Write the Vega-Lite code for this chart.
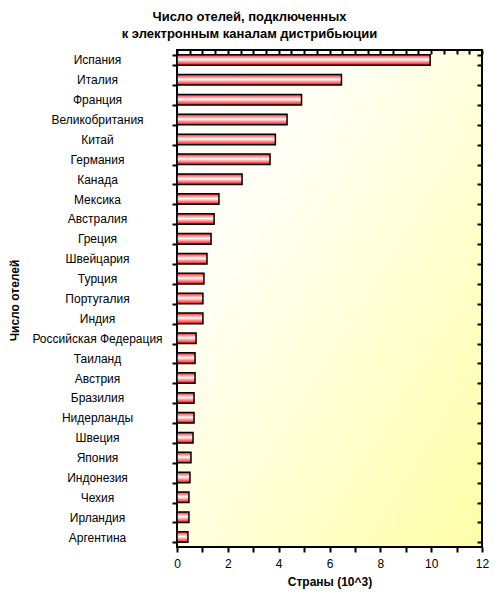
{
  "$schema": "https://vega.github.io/schema/vega-lite/v6.json",
  "autosize": {"type": "none"},
  "padding": {"left": 177, "top": 50, "right": 18, "bottom": 53},
  "width": 305,
  "height": 497,
  "background": "white",
  "title": {
    "text": ["Число отелей, подключенных", "к электронным каналам дистрибьюции"],
    "font": "Liberation Sans",
    "fontSize": 13,
    "fontWeight": "bold",
    "color": "black",
    "lineHeight": 17,
    "anchor": "middle",
    "dx": -80,
    "offset": 3
  },
  "data": {
    "values": [
      {"country": "Испания", "hotels": 9.96},
      {"country": "Италия", "hotels": 6.47},
      {"country": "Франция", "hotels": 4.9},
      {"country": "Великобритания", "hotels": 4.33},
      {"country": "Китай", "hotels": 3.87},
      {"country": "Германия", "hotels": 3.66},
      {"country": "Канада", "hotels": 2.56},
      {"country": "Мексика", "hotels": 1.65},
      {"country": "Австралия", "hotels": 1.46},
      {"country": "Греция", "hotels": 1.34},
      {"country": "Швейцария", "hotels": 1.18},
      {"country": "Турция", "hotels": 1.06},
      {"country": "Португалия", "hotels": 1.02},
      {"country": "Индия", "hotels": 1.02},
      {"country": "Российская Федерация", "hotels": 0.75},
      {"country": "Таиланд", "hotels": 0.71},
      {"country": "Австрия", "hotels": 0.71},
      {"country": "Бразилия", "hotels": 0.67},
      {"country": "Нидерланды", "hotels": 0.67},
      {"country": "Швеция", "hotels": 0.63},
      {"country": "Япония", "hotels": 0.55},
      {"country": "Индонезия", "hotels": 0.51},
      {"country": "Чехия", "hotels": 0.47},
      {"country": "Ирландия", "hotels": 0.47},
      {"country": "Аргентина", "hotels": 0.43}
    ]
  },
  "layer": [
    {
      "mark": {
        "type": "rect",
        "stroke": "#000000",
        "strokeWidth": 2,
        "fill": {
          "gradient": "linear",
          "x1": 0, "y1": 0, "x2": 1, "y2": 1,
          "stops": [
            {"offset": 0, "color": "#ffffff"},
            {"offset": 0.3, "color": "#fffff4"},
            {"offset": 1, "color": "#ffffa8"}
          ]
        }
      },
      "encoding": {
        "x": {"datum": 0, "type": "quantitative", "axis": null},
        "x2": {"datum": 12}
      }
    },
    {
      "mark": {
        "type": "bar",
        "stroke": "black",
        "strokeWidth": 1.5,
        "color": {
          "gradient": "linear",
          "x1": 0, "y1": 0, "x2": 0, "y2": 1,
          "stops": [
            {"offset": 0, "color": "#ff1a1a"},
            {"offset": 0.45, "color": "#ffffff"},
            {"offset": 1, "color": "#ff0000"}
          ]
        }
      },
      "encoding": {
        "y": {
          "field": "country",
          "type": "nominal",
          "sort": null,
          "scale": {"paddingInner": 0.47, "paddingOuter": 0.235},
          "axis": {
            "orient": "left",
            "zindex": 1,
            "title": "Число отелей",
            "titleFont": "Liberation Sans",
            "titleFontSize": 12,
            "titleFontWeight": "bold",
            "titleColor": "black",
            "titleX": -163,
            "titleY": 250,
            "titleBaseline": "middle",
            "titleAngle": -90,
            "domain": false,
            "ticks": true,
            "tickBand": "extent",
            "tickSize": 5,
            "tickWidth": 2,
            "tickColor": "black",
            "labelAlign": "center",
            "labelPadding": 75,
            "labelFont": "Liberation Sans",
            "labelFontSize": 12,
            "labelColor": "black",
            "labelLimit": 300
          }
        },
        "x": {
          "field": "hotels",
          "type": "quantitative",
          "scale": {"domain": [0, 12], "nice": false},
          "axis": {
            "orient": "bottom",
            "zindex": 1,
            "title": "Страны (10^3)",
            "titleFont": "Liberation Sans",
            "titleFontSize": 12,
            "titleFontWeight": "bold",
            "titleColor": "black",
            "titlePadding": 7,
            "domain": false,
            "grid": false,
            "ticks": true,
            "tickCount": 24,
            "format": "d",
            "labelExpr": "datum.value % 2 === 0 ? datum.label : ''",
            "tickSize": 5,
            "tickWidth": 2,
            "tickColor": "#000000",
            "labelPadding": 6,
            "labelFont": "Liberation Sans",
            "labelFontSize": 12,
            "labelColor": "black",
            "labelFlush": false,
            "labelOverlap": false
          }
        }
      }
    },
    {
      "mark": {"type": "bar", "opacity": 0},
      "encoding": {
        "y": {
          "field": "country",
          "type": "nominal",
          "sort": null,
          "axis": {
            "orient": "right",
            "zindex": 1,
            "title": null,
            "domain": false,
            "labels": false,
            "ticks": true,
            "tickBand": "extent",
            "tickSize": 5,
            "offset": -5,
            "tickWidth": 2,
            "tickColor": "black"
          }
        },
        "x": {
          "field": "hotels",
          "type": "quantitative",
          "axis": {
            "orient": "top",
            "zindex": 1,
            "title": null,
            "domain": false,
            "grid": false,
            "labels": false,
            "ticks": true,
            "tickCount": 24,
            "offset": -4,
            "tickSize": 4,
            "tickWidth": 2,
            "tickColor": "black"
          }
        }
      }
    }
  ],
  "resolve": {"axis": {"x": "independent", "y": "independent"}},
  "config": {
    "view": {"stroke": null}
  }
}
